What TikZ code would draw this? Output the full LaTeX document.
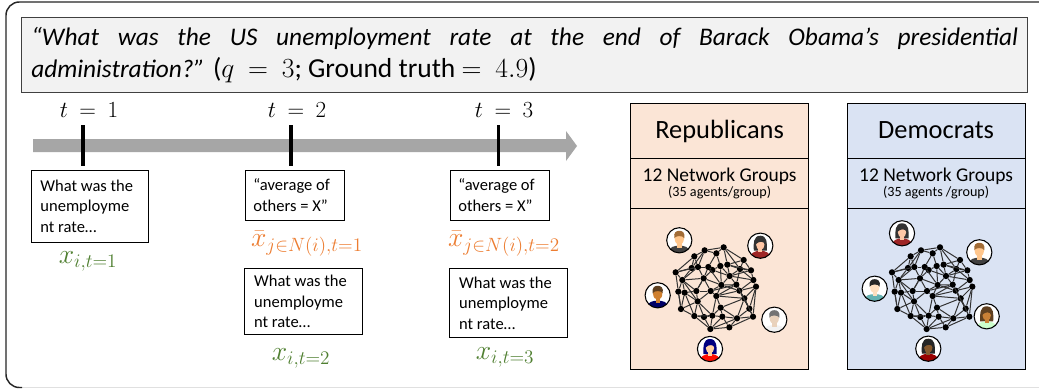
\documentclass[tikz,border=0pt]{standalone}
\usepackage{fontspec}
\setmainfont{Carlito}
\definecolor{qfill}{HTML}{F2F2F2}
\definecolor{repfill}{HTML}{FBE5D6}
\definecolor{demfill}{HTML}{DAE3F3}
\definecolor{arrowgray}{HTML}{A6A6A6}
\definecolor{mgreen}{HTML}{4F7F30}
\definecolor{morange}{HTML}{ED7D31}
\thickmuskip=9mu plus 0mu minus 0mu
\tikzset{
  msgbox/.style={draw=black,line width=0.8pt,fill=white,anchor=north west,inner sep=0pt,align=left,font=\fontsize{12.4}{15.5}\selectfont},
  tick/.style={line width=2.3pt,black},
  tlabel/.style={font=\fontsize{16.5}{20}\selectfont,inner sep=0pt},
  mlabel/.style={font=\fontsize{19.5}{22}\selectfont,inner sep=0pt},
  panel/.style={draw=black,line width=0.9pt,minimum width=133.5pt,anchor=north west,inner sep=0pt,align=center},
  dot/.style={circle,fill=black,inner sep=0pt,minimum size=4.7pt},
  netline/.style={draw=black!80,line width=0.75pt},
  ring/.style={draw=black,line width=0.8pt},
}
\newcommand{\network}[2]{%
  \foreach \i/\x/\y in {1/311/142,2/254/151,3/289/160,4/223/169,5/371/180,6/167/217,7/215/204,8/234/201,9/265/201,10/277/210,11/301/198,12/322/194,13/360/207,14/393/211,15/329/228,16/187/240,17/251/235,18/400/240,19/349/254,20/304/255,21/408/260,22/175/275,23/194/278,24/229/273,25/272/273,26/358/272,27/289/288,28/373/295,29/233/304,30/183/327,31/302/323,32/388/326,33/223/348,34/252/351,35/277/347,36/307/350,37/351/355,38/399/350,39/271/387,40/328/382}
    {\node[dot] (#1\i) at ({#2+\x/3},{200+\y/3}) {};}
  \foreach \a/\b in {2/1,1/5,5/14,14/18,18/21,21/38,38/40,40/39,39/33,33/30,30/22,6/16,6/22,6/4,4/2,38/32,32/28,28/21,4/7,7/8,8/9,9/10,10/11,11/12,12/13,13/14,13/5,2/3,3/1,3/11,3/9,2/8,2/7,6/7,7/16,16/17,17/8,17/9,17/10,10/15,15/12,15/13,15/18,15/19,19/13,19/26,26/21,26/18,19/20,20/11,20/25,25/17,25/24,24/16,24/17,24/23,23/16,23/22,22/16,24/29,29/23,29/30,29/33,25/27,27/20,27/19,27/31,27/35,31/36,31/35,31/28,28/26,28/37,37/36,37/38,37/32,36/35,35/34,34/33,34/29,35/39,36/40,36/39,30/23,32/26,37/40,1/12,5/12,1/13,4/8,6/8,16/8,16/29,22/30,23/33,29/35,17/20,17/24,9/20,11/15,12/14,13/18,14/15,20/15,20/26,25/19,25/29,27/26,27/28,31/37,33/35,34/39,39/37,28/38,32/21,26/32,19/28}
    {\draw[netline] (#1\a) -- (#1\b);}
}
% man: name, x, y, skin, hair, shirt
\newcommand{\manav}[6]{%
  \begin{scope}[shift={(#2,#3)}]
    \begin{scope}
      \clip (0,0) circle (12.6);
      \fill[white] (0,0) circle (12.6);
      \fill[#6] (-11,13) .. controls (-10,6) and (-5,5.5) .. (0,5.5) .. controls (5,5.5) and (10,6) .. (11,13) -- cycle;
      \fill[#4] (-2.2,3) rectangle (2.2,7.5);
      \fill[#4] (0,-1.5) ellipse (4.6 and 6);
      \fill[#5] (-5,-2) .. controls (-6,-8) and (-3,-9.5) .. (0,-9.5) .. controls (3,-9.5) and (6,-8) .. (5,-2) .. controls (4,-5) and (-4,-5) .. (-5,-2) -- cycle;
    \end{scope}
    \node[circle,ring,minimum size=18.9pt,inner sep=0pt] (#1) at (0,0) {};
  \end{scope}}
% woman: name, x, y, skin, hair, shirt
\newcommand{\womanav}[6]{%
  \begin{scope}[shift={(#2,#3)}]
    \begin{scope}
      \clip (0,0) circle (12.6);
      \fill[white] (0,0) circle (12.6);
      \fill[#5] (0,-10) .. controls (7,-10) and (7,-2) .. (6.5,5) -- (-6.5,5) .. controls (-7,-2) and (-7,-10) .. (0,-10) -- cycle;
      \fill[#6] (-11,13) .. controls (-10,7) and (-5,5) .. (0,5) .. controls (5,5) and (10,7) .. (11,13) -- cycle;
      \fill[#4] (-2,2) rectangle (2,6.5);
      \fill[#4] (0,-1) ellipse (4.2 and 5.3);
      \fill[#5] (-4.6,-1.5) .. controls (-5,-7) and (-2,-8) .. (0,-8) .. controls (2,-8) and (5,-7) .. (4.6,-1.5) .. controls (3.5,-4.5) and (-1,-5) .. (-4.6,-1.5) -- cycle;
    \end{scope}
    \node[circle,ring,minimum size=18.9pt,inner sep=0pt] (#1) at (0,0) {};
  \end{scope}}
\begin{document}
\begin{tikzpicture}[x=0.75pt,y=-0.75pt]
\useasboundingbox (0,0) rectangle (1039,389);
\fill[white] (0,0) rectangle (1039,389);
% outer frame
\draw[black!12,line width=0.6pt] (19,387.5) -- (1039,387.5);
\draw[black!85,line width=1.1pt,rounded corners=10pt] (1045,2) -- (6,2) -- (6,387.5) -- (22,387.5);
% question
\node[draw=black!75,line width=0.9pt,fill=qfill,anchor=north west,minimum width=754.5pt,minimum height=56.2pt,inner sep=0pt] (question) at (21,17) {%
  \parbox{740pt}{\fontsize{19}{23.5}\selectfont\itshape “What was the US unemployment rate at the end of Barack Obama’s presidential\linebreak administration?”\upshape\fontsize{20.6}{23.5}\selectfont{} ($q=3$; Ground truth $=4.9$)}};
% time arrow
\fill[arrowgray] (33,139) -- (566,139) -- (566,131) -- (577,146) -- (566,161) -- (566,152) -- (33,152) -- cycle;
% t labels
\node[tlabel] (t1) at (89,110) {$t=1$};
\node[tlabel] (t2) at (297,110) {$t=2$};
\node[tlabel] (t3) at (504,110) {$t=3$};
\coordinate (c1a) at (83,125); \coordinate (c1b) at (83,166);
\coordinate (c2a) at (291,125); \coordinate (c2b) at (291,166);
\coordinate (c3a) at (498.5,125); \coordinate (c3b) at (498.5,166);
\draw[tick] (c1a) -- (c1b);
\draw[tick] (c2a) -- (c2b);
\draw[tick] (c3a) -- (c3b);
% message boxes
\node[msgbox,minimum width=88.1pt,minimum height=54.4pt] (b1) at (30.5,169.5) {\parbox{74pt}{What was the\\unemployme\\nt rate…}};
\node[msgbox,minimum width=73.9pt,minimum height=37.9pt] (b2) at (245,169.5) {\parbox{62pt}{“average of\\others = X”}};
\node[msgbox,minimum width=74.1pt,minimum height=37.9pt] (b3) at (449.7,169.5) {\parbox{62pt}{“average of\\others = X”}};
\node[msgbox,minimum width=88.5pt,minimum height=49.5pt] (b4) at (244,268) {\parbox{74pt}{What was the\\unemployme\\nt rate…}};
\node[msgbox,minimum width=88.5pt,minimum height=51.7pt] (b5) at (449,268) {\parbox{74pt}{What was the\\unemployme\\nt rate…}};
% math labels
\thickmuskip=4mu plus 0mu minus 0mu
\node[mlabel,text=mgreen] (x1) at (88,261) {$x_{i,t=1}$};
\node[mlabel,text=morange] (xb1) at (307,244) {$\bar{x}_{j\in N(i),t=1}$};
\node[mlabel,text=morange] (xb2) at (504,244) {$\bar{x}_{j\in N(i),t=2}$};
\node[mlabel,text=mgreen] (x2) at (301,358) {$x_{i,t=2}$};
\node[mlabel,text=mgreen] (x3) at (505,357) {$x_{i,t=3}$};
% Republicans panel
\node[panel,fill=repfill,minimum height=41.25pt,font=\fontsize{19.8}{22}\selectfont] (rhead) at (630,103) {\raisebox{2.2pt}{Republicans}};
\node[panel,fill=repfill,minimum height=37.5pt] (rsub) at (630,158) {{\fontsize{14.6}{16}\selectfont 12 Network Groups}\\[-0.5pt]{\fontsize{10.6}{11}\selectfont (35 agents/group)}};
\node[panel,fill=repfill,minimum height=120.75pt] (rnet) at (630,208) {};
% Democrats panel
\node[panel,fill=demfill,minimum height=41.25pt,font=\fontsize{19.8}{22}\selectfont] (dhead) at (846.5,103) {\raisebox{2.2pt}{Democrats}};
\node[panel,fill=demfill,minimum height=37.5pt] (dsub) at (846.5,158) {{\fontsize{14.6}{16}\selectfont 12 Network Groups}\\[-0.5pt]{\fontsize{10.6}{11}\selectfont (35 agents /group)}};
\node[panel,fill=demfill,minimum height=120.75pt] (dnet) at (846.5,208) {};
% networks
\network{a}{620}
\network{b}{836.33}
% avatars
\manav{ra}{679.3}{240.3}{orange!45!white}{brown!85!black}{black!75}
\womanav{rb}{760.3}{245.7}{red!25!orange!35!white}{black!80}{red!55!black!85}
\manav{rc}{657.7}{295.3}{brown!75!orange}{brown!50!black}{blue!40!black}
\manav{rd}{774.3}{319.7}{brown!35!white}{black!55}{black!5}
\womanav{re}{710}{349}{orange!35!white}{blue!50!black}{red!90!orange}
\womanav{da}{902}{233.3}{red!25!orange!35!white}{black!80}{red!55!black!85}
\manav{db}{979.3}{252.3}{orange!45!white}{brown!85!black}{black!75}
\manav{dc}{874.7}{288.7}{orange!25!white}{black!85}{teal!60!white}
\womanav{dd}{986.7}{316.3}{brown!85!orange}{brown!50!black}{green!20!white}
\womanav{de}{928.3}{348.7}{brown!70!black}{black!85}{red!60!black}
\end{tikzpicture}
\end{document}
